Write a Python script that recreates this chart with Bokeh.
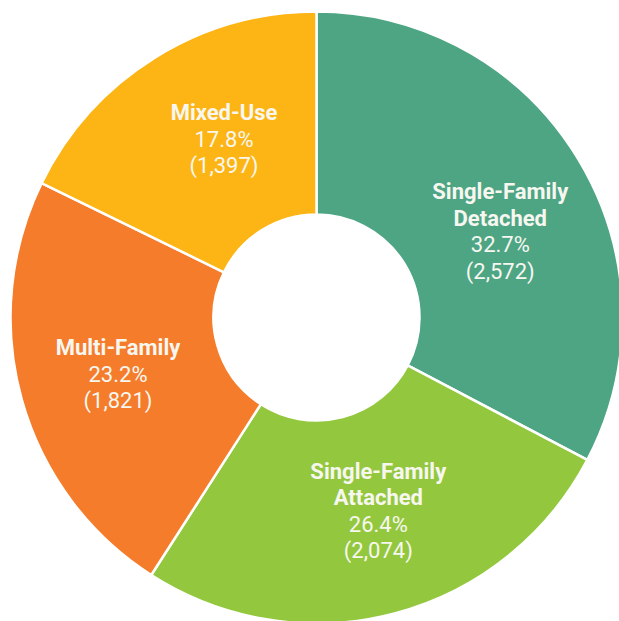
import math
from bokeh.plotting import figure
from bokeh.models import ColumnDataSource, Range1d
from bokeh.core.properties import value
from bokeh.embed import file_html
from bokeh.resources import INLINE

# ---- data ----
categories = ["Single-Family\nDetached", "Single-Family\nAttached", "Multi-Family", "Mixed-Use"]
counts = [2572, 2074, 1821, 1397]
colors = ["#4DA584", "#93C83E", "#F57C2B", "#FDB515"]

# ---- layout constants (pixels) ----
W, H = 619, 621
CX, CY = 316, 317          # donut centre, from top-left of the figure
R_OUT, R_IN = 306, 103
LABEL_R = 203
LINE_H = 26.5
LABEL_NUDGE = [(10, -19), (10, 3), (-3, -2), (15, 6)]

total = sum(counts)
starts, ends, mids = [], [], []
cum = 0
for c in counts:
    a0 = math.pi / 2 - cum / total * 2 * math.pi
    cum += c
    a1 = math.pi / 2 - cum / total * 2 * math.pi
    starts.append(a0)
    ends.append(a1)
    mids.append((a0 + a1) / 2)

wedges = ColumnDataSource(dict(start=starts, end=ends, color=colors))

p = figure(width=W, height=H, output_backend="svg", toolbar_location=None,
           x_axis_type=None, y_axis_type=None, min_border=0,
           x_range=Range1d(-CX, W - CX), y_range=Range1d(-(H - CY), CY))
p.outline_line_color = None
p.grid.visible = False
p.background_fill_color = "white"

p.annular_wedge(x=0, y=0, inner_radius=R_IN, outer_radius=R_OUT,
                start_angle="start", end_angle="end", direction="clock",
                fill_color="color", line_color="white", line_width=2.5,
                source=wedges)

bold = dict(x=[], y=[], t=[])
norm = dict(x=[], y=[], t=[])
for i, (cat, c) in enumerate(zip(categories, counts)):
    name_lines = cat.split("\n")
    num_lines = [f"{c / total * 100:.1f}%", f"({c:,})"]
    n = len(name_lines) + len(num_lines)
    cx = LABEL_R * math.cos(mids[i]) + LABEL_NUDGE[i][0]
    cy = LABEL_R * math.sin(mids[i]) + LABEL_NUDGE[i][1]
    for k, line in enumerate(name_lines + num_lines):
        y = cy + (n - 1) / 2 * LINE_H - k * LINE_H
        d = bold if k < len(name_lines) else norm
        d["x"].append(cx)
        d["y"].append(y)
        d["t"].append(line)

p.text(x="x", y="y", text="t", source=ColumnDataSource(bold),
       text_font=value("Roboto"), text_font_size="22px", text_font_style="bold",
       text_color="#F7F7F0", text_align="center", text_baseline="middle")
p.text(x="x", y="y", text="t", source=ColumnDataSource(norm),
       text_font=value("Roboto"), text_font_size="22px", text_font_style="normal",
       text_color="#F7F7F0", text_align="center", text_baseline="middle")

open("out.html", "w").write(file_html(p, INLINE))
